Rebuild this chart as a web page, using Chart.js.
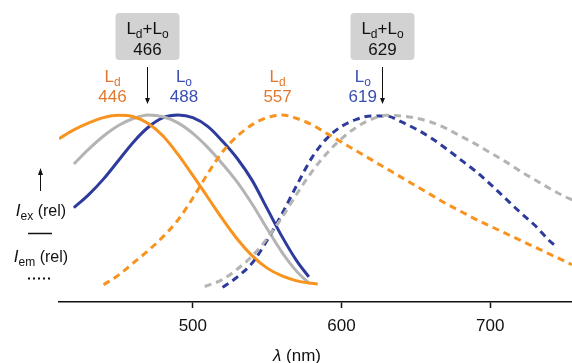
<!DOCTYPE html>
<html><head><meta charset="utf-8">
<script src="https://cdn.jsdelivr.net/npm/chart.js@4/dist/chart.umd.min.js"></script>
<style>html,body{margin:0;padding:0;background:#fff}canvas{display:block}</style>
</head><body>
<canvas id="c" width="572" height="363"></canvas>
<script>
// ---- data (wavelength in nm, relative intensity) ----
const xTicks = [500, 600, 700];

const ldExNm  = [410, 420, 430, 440, 450, 460, 470, 480, 490, 500, 510, 520, 530, 540, 550, 560, 570, 580, 584];
const ldExVal = [0.865, 0.915, 0.955, 0.985, 0.998, 0.99, 0.952, 0.88, 0.775, 0.655, 0.53, 0.405, 0.29, 0.195, 0.125, 0.08, 0.052, 0.038, 0.034];

const mixExNm  = [420, 430, 440, 450, 460, 470, 480, 490, 500, 510, 520, 530, 540, 550, 560, 570, 578];
const mixExVal = [0.72, 0.805, 0.88, 0.94, 0.98, 1.0, 0.99, 0.955, 0.895, 0.815, 0.72, 0.615, 0.49, 0.35, 0.215, 0.105, 0.04];

const loExNm  = [420, 430, 440, 450, 460, 470, 480, 490, 500, 510, 520, 530, 540, 550, 560, 570, 578];
const loExVal = [0.47, 0.545, 0.635, 0.74, 0.845, 0.93, 0.985, 1.0, 0.985, 0.935, 0.85, 0.75, 0.625, 0.465, 0.305, 0.165, 0.075];

const ldEmNm  = [440, 450, 460, 470, 480, 490, 500, 510, 520, 530, 540, 550, 560, 570, 580, 590, 600, 610, 620, 630, 640, 650, 660, 670, 680, 690, 700, 710, 720, 730, 740, 750, 755];
const ldEmVal = [0.03, 0.085, 0.155, 0.225, 0.305, 0.4, 0.525, 0.665, 0.79, 0.88, 0.945, 0.985, 1.0, 0.98, 0.945, 0.895, 0.845, 0.795, 0.745, 0.695, 0.645, 0.595, 0.545, 0.495, 0.45, 0.405, 0.365, 0.325, 0.285, 0.245, 0.205, 0.165, 0.145];

const loEmNm  = [520, 530, 540, 550, 560, 570, 580, 590, 600, 610, 620, 630, 640, 650, 660, 670, 680, 690, 700, 710, 720, 730, 740, 745];
const loEmVal = [0.015, 0.075, 0.155, 0.285, 0.435, 0.6, 0.755, 0.865, 0.935, 0.975, 0.995, 0.995, 0.962, 0.92, 0.87, 0.81, 0.745, 0.68, 0.605, 0.525, 0.445, 0.37, 0.28, 0.245];

const mixEmNm  = [508, 520, 530, 540, 550, 560, 570, 580, 590, 600, 610, 620, 630, 640, 650, 660, 670, 680, 690, 700, 710, 720, 730, 740, 750, 755];
const mixEmVal = [0.02, 0.06, 0.12, 0.195, 0.295, 0.415, 0.55, 0.675, 0.78, 0.865, 0.93, 0.975, 0.998, 0.995, 0.982, 0.96, 0.925, 0.88, 0.835, 0.785, 0.735, 0.68, 0.63, 0.58, 0.535, 0.515];

// peak annotations
const peakNames = ['d', 'o', 'd', 'o'];       // subscript of L
const peakNm    = [446, 488, 557, 619];
const mixPeakNm = [466, 629];

// ---- styling ----
const F = '"Liberation Sans", Arial, Helvetica, sans-serif';
const ORANGE = '#F7931E', BLUE = '#2D3C9C', GRAY = '#B4B4B4';
const ORANGE_T = '#E2782F', BLUE_T = '#3A4FB2';

function pts(xs, ys) { return xs.map((x, i) => ({ x: x, y: ys[i] })); }
function ds(label, xs, ys, color, dashed) {
  return {
    label: label, data: pts(xs, ys), borderColor: color, borderWidth: 3,
    borderDash: dashed ? [7, 5] : [], pointRadius: 0, fill: false,
    cubicInterpolationMode: 'monotone', borderCapStyle: 'butt'
  };
}

function drawRich(ctx, parts, cx, baseY, color) {
  let w = 0;
  for (const p of parts) { ctx.font = p.f; w += ctx.measureText(p.t).width; }
  let x = cx - w / 2;
  ctx.fillStyle = color; ctx.textAlign = 'left'; ctx.textBaseline = 'alphabetic';
  for (const p of parts) {
    ctx.font = p.f; ctx.fillText(p.t, x, baseY + (p.dy || 0));
    x += ctx.measureText(p.t).width;
  }
}
const big = `17px ${F}`, sub = `12px ${F}`;
function lParts(s) { return [{ t: 'L', f: big }, { t: s, f: sub, dy: 4 }]; }
function downArrow(ctx, x, y0, y1) {
  ctx.strokeStyle = '#111'; ctx.fillStyle = '#111'; ctx.lineWidth = 1;
  ctx.beginPath(); ctx.moveTo(x, y0); ctx.lineTo(x, y1 - 5); ctx.stroke();
  ctx.beginPath(); ctx.moveTo(x - 2.5, y1 - 6); ctx.lineTo(x + 2.5, y1 - 6); ctx.lineTo(x, y1); ctx.closePath(); ctx.fill();
}
function roundRect(ctx, x, y, w, h, r) {
  ctx.beginPath();
  ctx.moveTo(x + r, y); ctx.lineTo(x + w - r, y); ctx.quadraticCurveTo(x + w, y, x + w, y + r);
  ctx.lineTo(x + w, y + h - r); ctx.quadraticCurveTo(x + w, y + h, x + w - r, y + h);
  ctx.lineTo(x + r, y + h); ctx.quadraticCurveTo(x, y + h, x, y + h - r);
  ctx.lineTo(x, y + r); ctx.quadraticCurveTo(x, y, x + r, y); ctx.closePath();
}

const annot = {
  id: 'annot',
  afterDraw(chart) {
    const ctx = chart.ctx, xs = chart.scales.x;
    ctx.save();
    const offs = [0, 9, 0, -7];
    peakNm.forEach((nm, i) => {
      const cx = xs.getPixelForValue(nm) + offs[i];
      const col = peakNames[i] === 'd' ? ORANGE_T : BLUE_T;
      drawRich(ctx, lParts(peakNames[i]), cx, 82, col);
      drawRich(ctx, [{ t: String(nm), f: big }], cx, 102, col);
    });
    const boff = [5, -3];
    mixPeakNm.forEach((nm, i) => {
      const cx = Math.round(xs.getPixelForValue(nm) + boff[i]) + 0.5;
      ctx.fillStyle = '#D2D2D2';
      roundRect(ctx, cx - 32, 13, 64, 47, 4); ctx.fill();
      drawRich(ctx, [{ t: 'L', f: big }, { t: 'd', f: sub, dy: 4 }, { t: '+L', f: big }, { t: 'o', f: sub, dy: 4 }], cx, 34, '#111');
      drawRich(ctx, [{ t: String(nm), f: big }], cx, 55, '#111');
      downArrow(ctx, cx, 67, 104);
    });
    ctx.strokeStyle = '#111'; ctx.fillStyle = '#111'; ctx.lineWidth = 1;
    ctx.beginPath(); ctx.moveTo(40.5, 191); ctx.lineTo(40.5, 174); ctx.stroke();
    ctx.beginPath(); ctx.moveTo(38, 175); ctx.lineTo(43, 175); ctx.lineTo(40.5, 168); ctx.closePath(); ctx.fill();
    const ital = `italic 17px ${F}`, s2 = `12px ${F}`, r16 = `16px ${F}`;
    drawRich(ctx, [{ t: 'I', f: ital }, { t: 'ex', f: s2, dy: 4 }, { t: ' (rel)', f: r16 }], 41, 216, '#111');
    ctx.lineWidth = 1.5;
    ctx.beginPath(); ctx.moveTo(28, 233.5); ctx.lineTo(52, 233.5); ctx.stroke();
    drawRich(ctx, [{ t: 'I', f: ital }, { t: 'em', f: s2, dy: 4 }, { t: ' (rel)', f: r16 }], 41, 262, '#111');
    for (let k = 0; k < 5; k++) { ctx.fillRect(28 + k * 5, 277.5, 2, 2); }
    drawRich(ctx, [{ t: 'λ', f: `italic 17px ${F}` }, { t: ' (nm)', f: `17px ${F}` }], 297, 361, '#111');
    ctx.restore();
  }
};

new Chart(document.getElementById('c'), {
  type: 'line',
  data: {
    datasets: [
      ds('Ld+Lo em', mixEmNm, mixEmVal, GRAY, true),
      ds('Ld em', ldEmNm, ldEmVal, ORANGE, true),
      ds('Lo em', loEmNm, loEmVal, BLUE, true),
      ds('Ld ex', ldExNm, ldExVal, ORANGE, false),
      ds('Ld+Lo ex', mixExNm, mixExVal, GRAY, false),
      ds('Lo ex', loExNm, loExVal, BLUE, false)
    ]
  },
  options: {
    responsive: false, animation: false, devicePixelRatio: 1,
    layout: { padding: { left: 59, right: 0, top: 110, bottom: 0 } },
    plugins: { legend: { display: false }, tooltip: { enabled: false } },
    scales: {
      x: {
        type: 'linear', min: 410, max: 755,
        afterBuildTicks: (s) => { s.ticks = xTicks.map(v => ({ value: v })); },
        afterFit: (s) => { s.height = 61; },
        border: { display: true, color: '#111', width: 1.5 },
        grid: { drawOnChartArea: false, drawTicks: true, tickLength: 6, color: '#111', tickWidth: 1.5 },
        ticks: { color: '#111', font: { family: F, size: 17 }, padding: 8, maxRotation: 0 }
      },
      y: { display: false, min: -0.0686, max: 1.0286 }
    }
  },
  plugins: [annot]
});
</script>
</body></html>
